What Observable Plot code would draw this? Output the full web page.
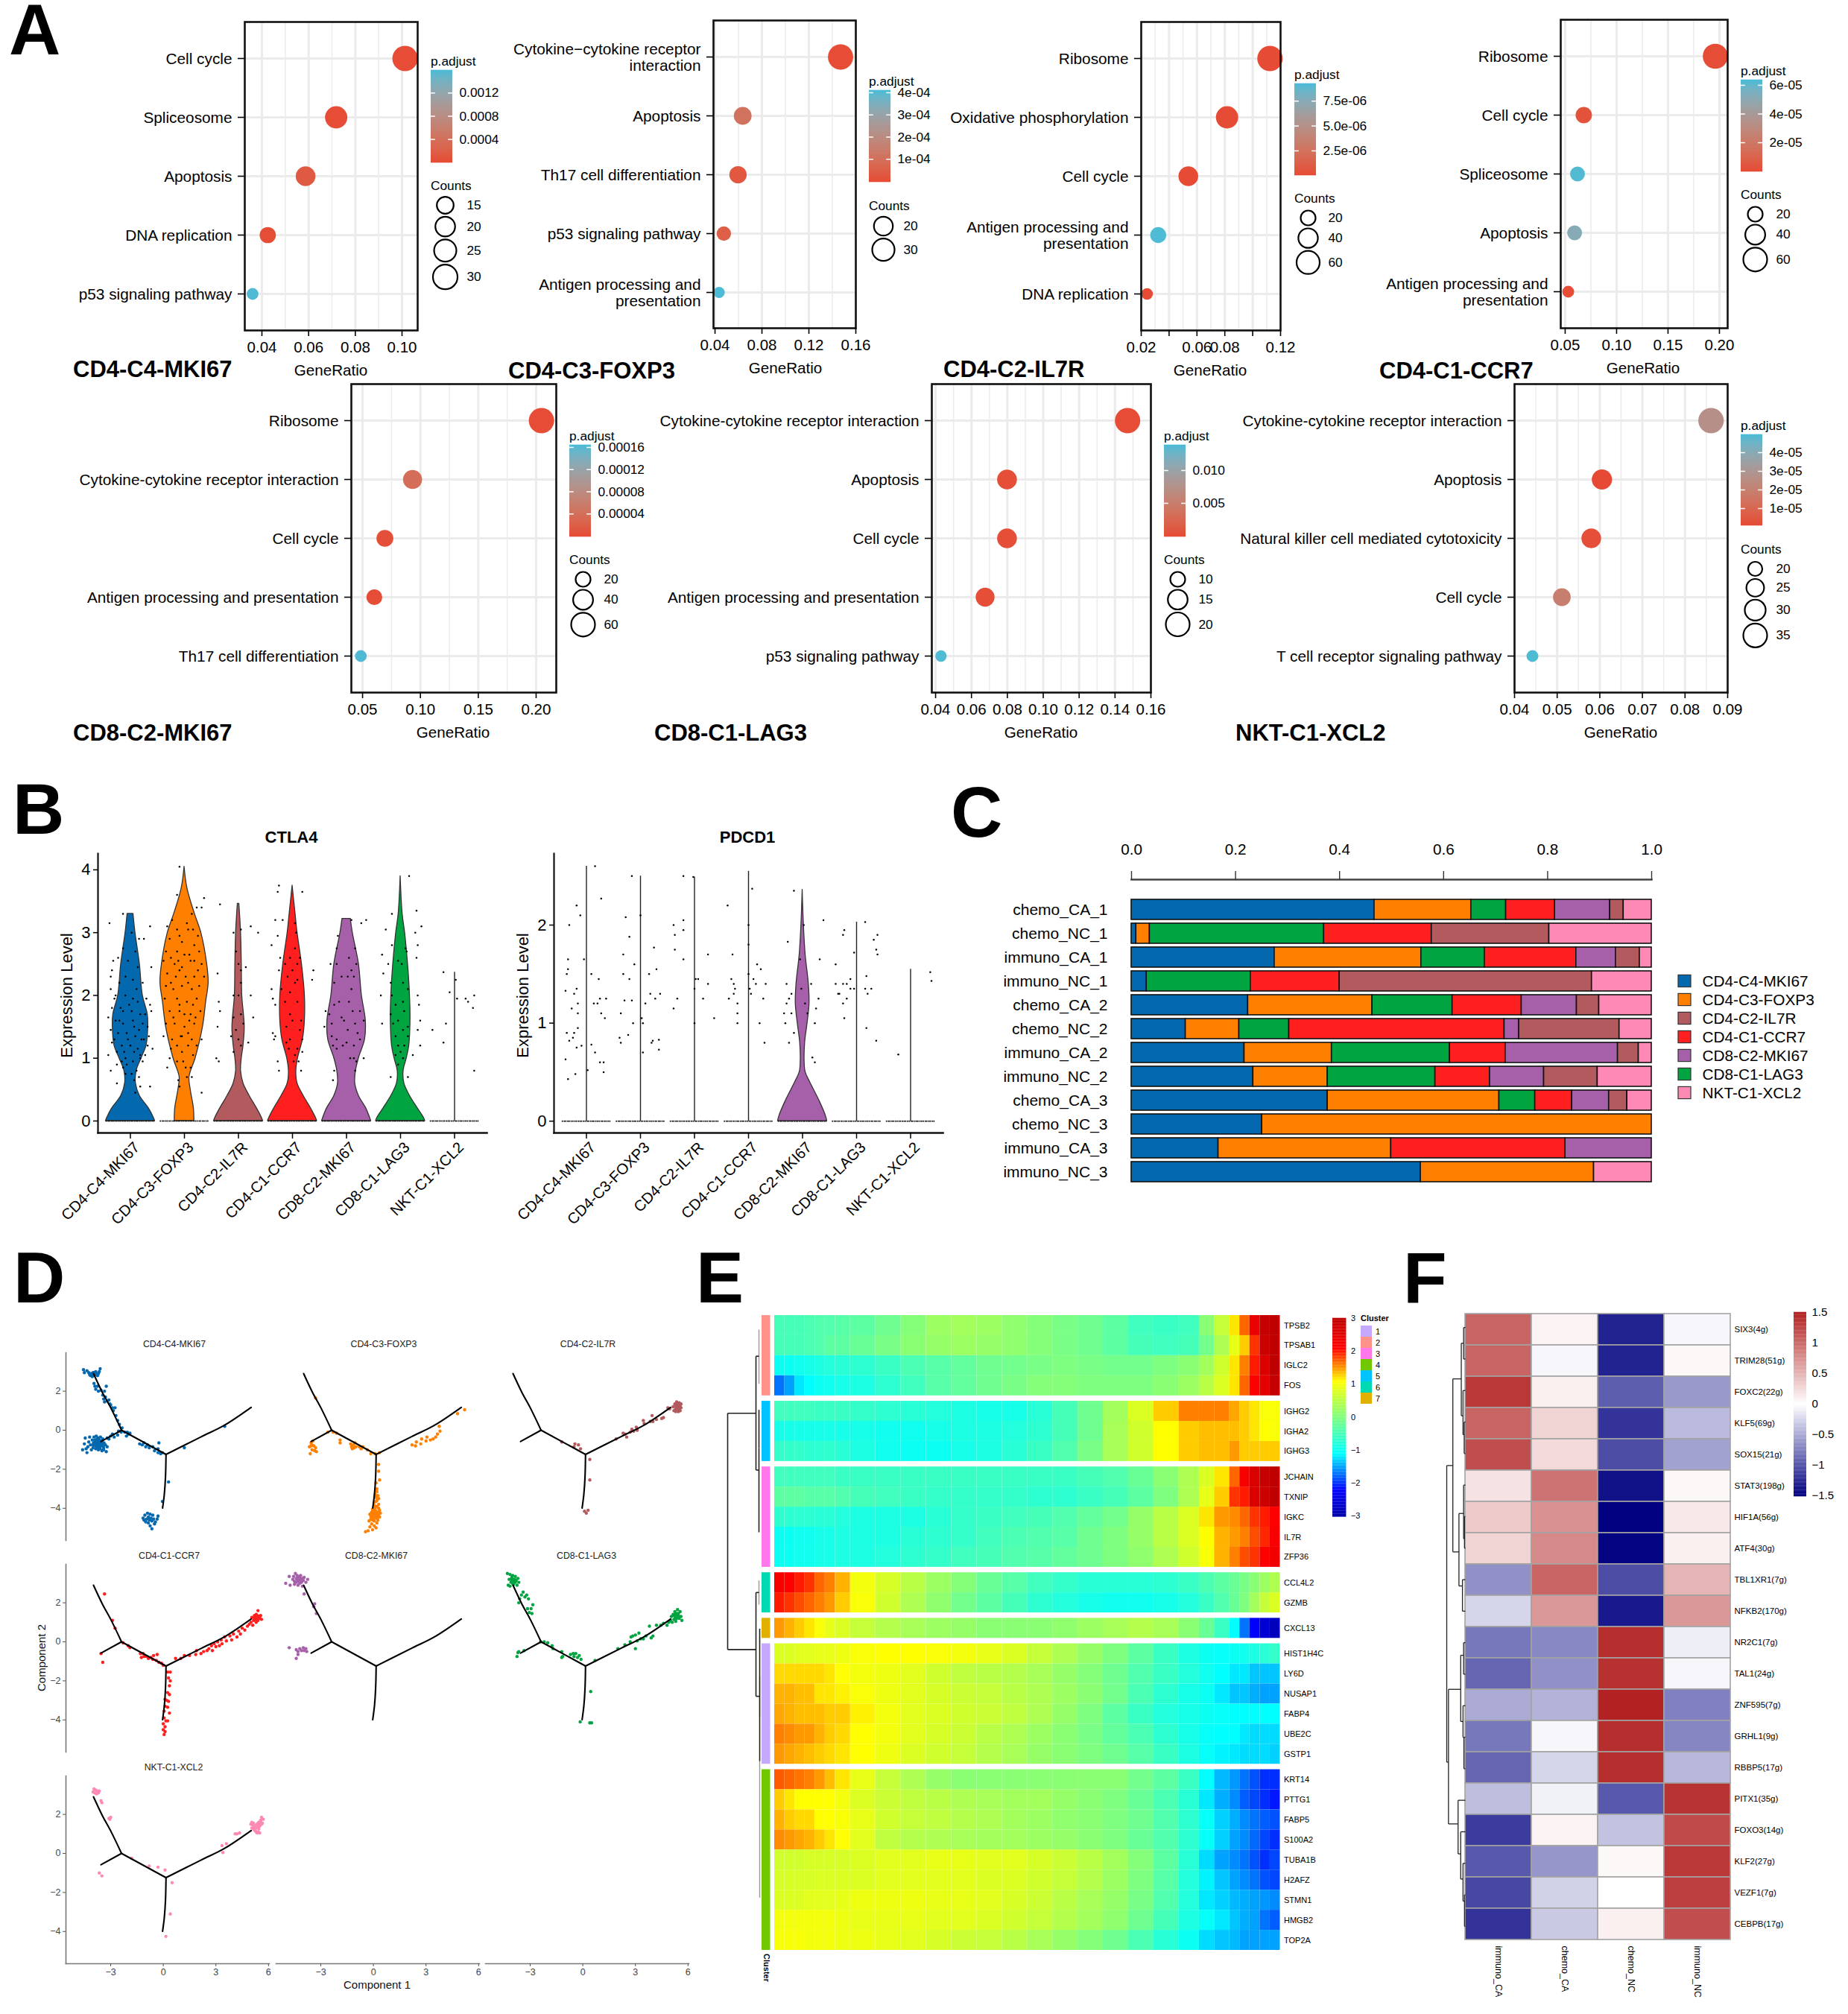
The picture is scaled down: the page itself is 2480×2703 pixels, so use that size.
<!DOCTYPE html>
<html><head><meta charset="utf-8">
<script src="https://cdn.jsdelivr.net/npm/d3@7"></script>
<script src="https://cdn.jsdelivr.net/npm/@observablehq/plot@0.6"></script>
<style>html,body{margin:0;background:#fff}#page{position:relative;width:2480px;height:2703px;overflow:hidden;background:#fff;font-family:"Liberation Sans",Arial,sans-serif}svg{background:transparent!important;overflow:visible!important}</style>
</head><body><div id="page"></div>
<script>
// ---------- DATA ----------
const longCyto="Cytokine\u2212cytokine receptor\ninteraction", longAg="Antigen processing and\npresentation";
const a1Terms=["Cell cycle","Spliceosome","Apoptosis","DNA replication","p53 signaling pathway"], a1Ratio=[.1013,.0718,.0587,.0425,.036], a1Padj=[.00002,.00002,.00015,.00003,.00158], a1Counts=[32,25,20,14,8];
const a2Terms=[longCyto,"Apoptosis","Th17 cell differentiation","p53 signaling pathway",longAg], a2Ratio=[.147,.0636,.0596,.0475,.0435], a2Padj=[2e-6,1.1e-4,3e-5,5e-5,4.1e-4], a2Counts=[40,17,16,10,5];
const a3Terms=["Ribosome","Oxidative phosphorylation","Cell cycle",longAg,"DNA replication"], a3Ratio=[.1124,.0816,.0538,.0322,.0242], a3Padj=[1e-7,1e-7,1e-7,9.2e-6,1e-7], a3Counts=[75,55,41,24,10];
const a4Terms=["Ribosome","Cell cycle","Spliceosome","Apoptosis",longAg], a4Ratio=[.196,.0681,.062,.0592,.053], a4Padj=[1e-6,3e-6,6.3e-5,5.2e-5,1e-6], a4Counts=[67,25,20,20,11];
const a5Terms=["Ribosome","Cytokine-cytokine receptor interaction","Cell cycle","Antigen processing and presentation","Th17 cell differentiation"], a5Ratio=[.2046,.0932,.0693,.0602,.0485], a5Padj=[1e-6,3.8e-5,3e-6,2e-6,1.63e-4], a5Counts=[69,36,27,23,11];
const a6Terms=["Cytokine-cytokine receptor interaction","Apoptosis","Cell cycle","Antigen processing and presentation","p53 signaling pathway"], a6Ratio=[.147,.0798,.0798,.0676,.043], a6Padj=[.0001,.0002,.0002,.0002,.0138], a6Counts=[22,15,15,14,7];
const a7Terms=["Cytokine-cytokine receptor interaction","Apoptosis","Natural killer cell mediated cytotoxicity","Cell cycle","T cell receptor signaling pathway"], a7Ratio=[.0861,.0605,.058,.0511,.0442], a7Padj=[2.7e-5,1e-6,2e-6,1.9e-5,4.95e-5], a7Counts=[38,29,28,25,17];

const clusters=["CD4-C4-MKI67","CD4-C3-FOXP3","CD4-C2-IL7R","CD4-C1-CCR7","CD8-C2-MKI67","CD8-C1-LAG3","NKT-C1-XCL2"];
const clusterColors=["#0468AE","#FF7F00","#B25A5D","#FF1F1F","#A660AA","#00A441","#FF89B5"];

const ctlaProfiles=[
[3.3,.12,3.0,.2,2.5,.38,2.0,.5,1.7,.7,1.5,.72,1.2,.65,1.0,.45,.8,.25,.6,.22,.4,.38,.2,.75,.05,.95,0,1],
[4.05,0,3.7,.12,3.3,.42,3,.68,2.5,.92,2.2,.98,1.9,.88,1.5,.75,1,.45,.7,.2,.5,.25,.2,.38,0,.4],
[3.46,.03,3,.1,2.5,.13,2,.15,1.5,.25,1.2,.2,1,.13,.8,.1,.6,.2,.4,.45,.2,.75,.05,.95,0,1],
[3.75,0,3.3,.12,3,.2,2.5,.38,2,.5,1.6,.5,1.3,.42,1,.22,.8,.15,.6,.2,.4,.45,.2,.75,.05,.95,0,1],
[3.22,.17,3,.25,2.5,.5,2,.62,1.6,.78,1.3,.75,1,.5,.8,.38,.6,.35,.4,.5,.2,.8,0,1],
[3.9,0,3.3,.08,3,.18,2.5,.3,2,.38,1.6,.4,1.2,.35,1,.25,.8,.12,.6,.15,.4,.38,.2,.7,.05,.95,0,1]];
const pdcdProfile=[2.36,0,2,.05,1.7,.12,1.4,.25,1.2,.28,1,.2,.8,.1,.6,.08,.5,.12,.4,.3,.2,.7,.05,.95,0,1];
const ctlaLineTop=[null,null,null,null,null,null,2.37];
const pdcdLineTop=[2.6,2.5,2.49,2.55,null,2.03,1.55];
const baseJitter=[-.98,-.9,-.84,-.76,-.7,-.62,-.55,-.47,-.41,-.33,-.26,-.2,-.12,-.05,.03,.09,.17,.24,.3,.38,.45,.52,.6,.66,.74,.8,.88,.95];
const ctlaPoints=[
[-.85,3.15,-.3,3.3,-.7,2.55,-.75,2.4,-.8,2.3,-.5,2.6,.35,2.9,.55,2.9,.8,3.1,.2,2.7,-.2,2.3,.3,2.45,.5,2.2,.85,2.45,-.8,2.1,-.6,2,-.2,2,.1,1.95,.3,1.9,-.75,1.8,-.4,1.8,.05,1.75,.4,1.7,.8,1.85,.85,1.75,-.9,1.65,-.6,1.6,-.3,1.55,.1,1.6,.5,1.55,.7,1.5,-.8,1.45,-.5,1.4,-.15,1.4,.2,1.35,.55,1.3,.75,1.35,-.75,1.25,-.35,1.2,0,1.2,.3,1.15,.7,1.2,.9,1.15,-.9,1.05,-.55,1.1,-.2,1,.1,.95,.4,1,-.8,.8,-.3,.85,-.2,.75,.05,.75,.35,.7,-.55,.6,.4,.55,.2,.45,.8,.55,-.15,.9,.25,.8,-.65,1.95,-.3,1.75,.15,1.5,.35,1.45,-.1,1.3,.45,1.3,-.45,1.6,-.05,1.85,.25,2.1,-.45,2.2,.6,1.7,.65,1.95,-.65,1.3,-.25,1.1,.15,1.1,.5,.95,-.35,.95,.6,1.05,-.1,2.55,.1,2.25,-.3,2.75,.05,3,.4,1.05,-.55,.9,.15,.65],
[-.2,4.05,-.3,3.6,.5,3.4,.8,3.55,.7,3.4,.3,3.3,-.5,3.2,.1,3.15,-.7,3.1,-.3,3.05,.15,3.05,.35,3.05,-.6,2.9,-.1,2.85,.4,2.8,-.75,2.7,-.3,2.7,.2,2.65,.6,2.7,-.85,2.55,-.4,2.5,-.1,2.45,.25,2.55,.55,2.4,-.7,2.35,-.35,2.3,.05,2.3,.4,2.3,.8,2.3,-.75,2.15,-.45,2.1,-.1,2.15,.3,2.1,.6,2.15,-.8,1.95,-.3,1.95,.1,1.9,.5,1.95,-.6,1.75,-.2,1.75,.25,1.7,.65,1.75,-.75,1.55,-.4,1.55,0,1.5,.4,1.55,-.85,1.35,-.5,1.3,-.15,1.35,.3,1.3,.7,1.3,-.55,1.15,-.1,1.1,.35,1.05,-.3,.95,.25,.85,.1,.7,-.25,.65,.3,.7,-.7,.85,-.2,.55,.7,.45,-.2,2.95,.55,2.95,0,2.65,-.55,2.6,.4,2.55,-.2,2.4,.7,2.5,.15,2.2,-.55,2.2,-.2,1.85,.35,1.85,0,1.7,-.45,1.65,.45,1.65,-.1,1.35,.15,1.4,-.3,1.2,.15,1.2,-.6,1,.5,1.2,-.05,.95,.05,.85,.2,1.6,-.25,2.55],
[-.75,3.45,.1,3.05,-.2,3,.5,3.1,.8,3,-.1,2.7,.1,2.4,0,2.5,.3,2.45,-.85,2.35,.1,2.2,-.2,2,0,2,.5,2,-.8,1.9,-.75,1.75,.1,1.7,-.2,1.65,.2,1.55,.6,1.65,-.85,1.5,-.1,1.45,-.3,1.35,0,1.3,.1,1.2,.4,1.25,-.9,1,-.8,.95,-.2,1.1],
[-.55,3.75,-.6,3.65,.4,3.65,-.7,3.2,-.4,3.2,.1,3.15,.15,3,-.6,2.95,-.85,2.8,.1,2.75,.3,2.6,-.5,2.6,-.55,2.4,.2,2.5,.85,2.4,.8,2.25,-.2,2.3,.1,2.2,-.45,2.1,-.85,2.1,-.8,1.95,-.3,1.9,.2,1.9,-.7,1.85,-.1,1.7,.35,1.6,-.25,1.5,.3,1.45,.4,1.3,-.8,1.4,-.75,1.3,-.7,1.35,-.1,1.3,-.25,1.25,.2,1.15,.4,1.1,-.6,.95,-.55,.8,.25,.95,.35,.8,.1,1.05,-.1,2.6,0,2.4,-.3,2.5,.2,2.25,-.1,2.05,0,1.6,-.15,1.15,.05,.95],
[.2,3.2,.8,3.2,.6,3.15,-.35,2.95,.35,2.75,-.4,2.75,.1,2.6,-.65,2.5,-.4,2.5,.4,2.5,.05,2.3,.3,2.3,-.5,2.2,.2,2.1,-.85,1.75,-.7,1.7,-.5,1.85,.25,1.75,.55,1.75,-.9,1.5,-.6,1.55,-.1,1.6,.7,1.6,-.6,1.35,-.4,1.3,.05,1.45,.45,1.4,-.55,1.2,-.4,1.15,.3,1.2,.3,1,.4,.95,.7,1,-.5,.8,-.55,.65,.35,.8,-.2,2.3,.2,2.4,-.3,1.9,.1,1.9,-.2,1.65,.35,1.55,0,1.25,-.15,1.2,.55,1.3,.15,1],
[-.35,3.3,.35,3.9,.65,3.35,-.6,3.05,.85,3.1,.6,3,-.35,2.8,.7,2.8,.2,2.75,.25,2.7,-.75,2.65,-.5,2.5,.65,2.6,-.7,2.35,.1,2.2,-.4,2.2,-.8,2,-.35,2,.3,2.1,.7,2,-.2,1.85,.75,1.85,-.4,1.7,.15,1.75,.8,1.6,-.75,1.55,-.3,1.55,.3,1.5,.7,1.45,-.2,1.35,.3,1.35,-.1,1.2,.15,1.2,.8,1.2,.5,1.05,-.1,.9,-.4,.7,.3,.7,.05,2.5,-.1,2.55,.1,1.9,-.1,1.6,.1,1.45,0,1.1,-.2,1.05,.1,1],
[-.45,2.37,.05,2.25,-.2,2.05,.1,1.95,.45,1.95,.8,2,.55,1.9,.75,1.8,-.9,1.45,-.35,1.55,-.45,1.25,.8,.8]];
const pdcdPoints=[
[-.75,1.65,-.4,2.2,-.25,2.1,-.7,2,.6,2.27,.35,2.6,-.85,1.33,-.5,1.3,-.4,1.35,-.8,1.5,-.1,1.65,-.75,1.55,-.35,1.2,-.6,1.15,-.35,1.1,.3,1.2,.45,1.2,.55,1.25,.8,1.25,.2,1.5,.5,1.45,.6,1.1,.75,1.05,-.8,.9,-.55,.85,-.35,.95,-.5,.9,-.7,.82,-.4,.75,-.2,.77,.2,.78,.35,.7,-.85,.63,-.75,.43,-.45,.48,.05,.52,.55,.6,.7,.6,.7,.5],
[-.7,1.7,-.6,2.08,0,2.1,-.35,2.5,-.45,1.88,.55,1.77,-.25,1.6,-.7,1.5,-.45,1.45,.35,1.5,.65,1.55,.6,1.25,.4,1.3,.8,1.3,.2,1.2,-.8,1.1,-.65,1.23,-.35,1.23,.05,1.05,.1,1,-.3,1,-.85,.85,-.8,.8,-.5,.88,.45,.8,.5,.82,.75,.83,.75,.73,.1,.7],
[-.8,1.75,-.85,2,-.8,1.9,-.45,2.05,-.45,1.95,-.05,2.49,-.45,2.5,.55,1.7,.05,1.45,-.45,1.65,0,1.35,.15,1.45,.55,1.4,-.7,1.25,-.85,1.15,.35,1.25,0,1,.8,1.05],
[-.85,2.2,.15,2.37,-.65,1.7,-.7,1.45,-.6,1.4,-.55,1.35,-.6,1.3,-.8,1.25,-.45,1.2,-.45,1.1,-.45,1,0,1.5,.05,1.35,.2,1.45,.3,1.4,.35,1.6,.5,1.55,.6,1.25,.7,1.4,.65,.8,.45,1,0,2,0,1.8,.1,1.3],
[-.35,2.35,-.6,1.83,-.1,1.65,-.65,1.4,-.55,1.25,-.65,1.2,-.45,1.3,-.75,1.1,-.45,1.1,-.7,1,-.35,.9,-.55,.8,-.05,1.35,.1,1.2,.2,1.1,.55,1.15,.5,1,.65,1.25,.7,1.65,.85,2.05,.4,.65,.5,.6,.05,2,.35,1.4],
[-.85,1.6,-.55,1.9,-.5,1.95,-.1,1.72,-.85,1.4,-.7,1.3,-.55,1.4,-.4,1.4,-.25,1.45,-.4,1.25,-.75,1.3,-.25,1.35,-.1,1.35,-.55,1.2,-.5,1.05,.35,2.03,.8,1.75,.7,1.85,.85,1.9,.85,1.7,.4,1.48,.35,1.35,.45,1.3,.6,1.35,.4,.95,.8,.82],
[-.5,.68,.8,1.52,.85,1.43]];

// Panel C
const samples=["chemo_CA_1","chemo_NC_1","immuno_CA_1","immuno_NC_1","chemo_CA_2","chemo_NC_2","immuno_CA_2","immuno_NC_2","chemo_CA_3","chemo_NC_3","immuno_CA_3","immuno_NC_3"];
const stackOrder=["CD4-C4-MKI67","CD4-C3-FOXP3","CD8-C1-LAG3","CD4-C1-CCR7","CD8-C2-MKI67","CD4-C2-IL7R","NKT-C1-XCL2"];
const shareC4=[.467,.009,.275,.029,.224,.104,.217,.234,.377,.251,.167,.556];
const shareC3=[.186,.026,.282,0,.239,.103,.168,.143,.33,.749,.332,.333];
const shareLAG3=[.067,.335,.122,.2,.154,.096,.227,.207,.069,0,0,0];
const shareCCR7=[.094,.207,.176,.171,.133,.414,.107,.105,.071,0,.335,0];
const shareC8=[.106,0,.076,0,.106,.028,.216,.104,.071,0,.166,0];
const shareIL7R=[.026,.226,.046,.485,.043,.193,.04,.103,.035,0,0,0];
const shareNKT=[.054,.197,.023,.115,.101,.062,.025,.104,.047,0,0,.111];

// Panel D
const treeBranches=[
[[-2.38,0],[-2.99,1.14],[-3.48,1.95],[-3.98,2.9]],
[[-2.38,0],[-3.55,-.58]],
[[-2.38,0],[.156,-1.24]],
[[.156,-1.24],[2.18,-.33],[3.46,.24],[5.01,1.17]],
[[.156,-1.24],[.127,-2.38],[.06,-3.28],[-.04,-3.99]]];
const cellsC4=[-4.55,3.1,-4.5,2.95,-4.35,3.05,-4.25,2.95,-4.2,2.85,-4.15,2.8,-4.1,2.9,-4.05,2.75,-4,2.85,-3.95,2.95,-3.9,2.85,-3.85,3,-3.8,2.9,-3.75,2.8,-3.65,3,-3.6,3.15,-3.7,2.9,-3.95,2.4,-3.9,2.25,-3.85,2.1,-3.75,2.25,-3.7,2,-3.55,2.05,-3.35,2,-3.25,2.25,-3.45,1.8,-3.4,1.6,-3.35,1.45,-3.3,1.7,-3.2,1.5,-3.1,1.55,-3.05,1.35,-3,1.3,-2.9,1.15,-2.85,1,-2.75,1.15,-2.7,.75,-2.6,.5,-2.5,.3,-2.35,.12,-3,-.3,-2.8,-.35,-2.9,-.2,-2.6,-.25,-2.55,-.05,-2.4,-.1,-2.2,-.1,-2.1,-.3,-3.2,-.4,-3.1,-.45,-2.05,-.1,-4.6,-1,-4.5,-.7,-4.45,-.4,-4.4,-.95,-4.35,-1.15,-4.3,-.85,-4.25,-.6,-4.2,-.35,-4.15,-.75,-4.1,-1,-4.05,-.5,-4,-.9,-3.98,-.65,-3.95,-.35,-3.9,-.75,-3.88,-.55,-3.85,-.95,-3.82,-.3,-3.8,-.7,-3.78,-.45,-3.75,-.85,-3.72,-.6,-3.7,-1,-3.68,-.75,-3.65,-.5,-3.62,-.9,-3.6,-.65,-3.58,-.35,-3.55,-.8,-3.52,-.55,-3.5,-1.05,-3.48,-.7,-3.45,-.45,-3.4,-.9,-3.38,-.65,-3.3,-.75,-3.25,-1.1,-3.2,-.85,-3.4,-1,-3.75,-.65,-3.7,-.55,-3.85,-.65,-3.6,-.75,-3.65,-.7,-2,-.2,-1.9,-.15,-1.35,-.7,-1.2,-.75,-1.1,-.65,-1,-.85,-.9,-.75,-.8,-.9,-.5,-1.05,-.3,-.95,-.3,-1.15,-.25,-.65,-.15,-1.2,-.05,-1.15,-.6,-.85,1.2,-.9,3.5,.2,.3,-2.65,-.05,-3.65,-1.15,-4.5,-1.1,-4.6,-1.05,-4.35,-1,-4.7,-.95,-4.55,-.9,-4.25,-.85,-4.45,-.85,-4.75,-.8,-4.6,-.75,-4.3,-.75,-4.9,-.7,-4.5,-.65,-4.65,-.65,-5.05,-.6,-4.35,-.55,-4.55,-.5,-4.8,-.45,-4.7,-.35,-4.55,-.3,-4.4,-3.9,-.6,-3.8,-.55,-3.7,-.7,-3.6,-.6,-3.75,-.8,-3.65,-.85,-3.85,-.8,-3.55,-.7,-3.7,-.4,-3.8,-.85,-3.9,-.5,-3.5,-.6,-3.45,-.8,-4,-.75,-3.6,-.95,-3.7,-.65,-3.75,-.5,-3.65,-.6,-4,2.95,-3.9,2.95,-3.85,2.9,-4.05,2.9,-3.95,2.8];
const cellsC3=[-3.3,1.65,-3.65,-.85,-3.6,-1.2,-3.55,-.65,-3.5,-1,-3.45,-.55,-3.4,-.8,-3.35,-1.05,-3.3,-.9,-3.25,-1.1,-3.55,-.8,-3.5,-.75,-2.6,-.1,-2.3,-.1,-2.1,-.15,-1.9,-.5,-1.9,-.65,-1.3,-.7,-1.25,-.85,-1.2,-.95,-1.15,-.75,-1.1,-.9,-1.05,-.65,-1,-.85,-.8,-.85,-.7,-.95,-.6,-.85,-.35,-1,-.15,-1.2,.1,-1.2,.35,-1.15,2.2,-.75,2.4,-.8,2.45,-.6,2.7,-.7,2.75,-.45,3,-.55,3.05,-.35,3.25,-.5,3.4,-.45,3.55,-.35,3.65,-.2,3.8,-.05,3.75,.2,4.8,.85,5.2,1.05,.3,-1.75,.3,-2.1,.35,-2.55,.15,-2.7,.2,-3,.2,-3.15,.25,-3.35,.1,-3.3,.3,-3.5,.15,-3.65,.3,-3.8,.2,-3.9,.05,-3.85,.3,-4,-.05,-4.05,.1,-4.1,.35,-4.1,.25,-4.2,-.1,-4.2,.4,-4.25,.05,-4.3,.2,-4.35,-.2,-4.3,.35,-4.45,-.05,-4.45,.1,-4.5,.25,-4.6,-.15,-4.55,.05,-4.65,-.25,-4.65,.2,-4.75,-.1,-4.8,.05,-4.9,-.2,-4.95,.15,-5,-.05,-5.1,-.3,-5.15,-.45,-5.2,0,-4.4,.1,-4.3,0,-4.2,-.1,-4.4,.15,-4.15,-.05,-4.6,.05,-4.45,0,-4.3,.1,-4.15,.2,-4.25,-.1,-4.3,0,-4.5,.15,-4.4,.05,-4.25,-.05,-4.15,.1,-4.4,.25,-4.35,.3,-4.3,-.15,-4.4,0,-4.05,.2,-4.5,.1,-3.95,.05,-3.7,.2,-3.6,.15,-3.45];
const cellsIL7R=[5.15,1.2,5.2,1,5.25,1.35,5.3,1.1,5.3,.95,5.35,1.25,5.35,1.45,5.4,1.05,5.4,1.3,5.45,.95,5.45,1.2,5.5,1.4,5.5,1.1,5.55,1.25,5.55,1,5.6,1.35,5.6,1.15,5.3,1.25,5.4,1.15,5.5,1.25,4.85,1.15,4.95,1.1,4.6,.65,4.5,.6,4.2,.55,4,.45,3.95,.75,3.85,.45,3.5,.35,3.45,.5,3.1,0,3.05,.15,2.9,-.05,2.8,.05,2.7,-.1,2.5,-.35,2.4,-.2,2.3,-.15,1.9,-.45,-1.2,-.6,-.45,-.7,-.5,-.85,-.25,-.75,-.13,-.95,.4,-1.5,.4,-2.55,.1,-4.15,.2,-4.25,.3,-4.1,5.35,1.15,5.45,1.1,5.4,1.35,5.35,1.05];
const cellsCCR7=[-3.35,2.45,-2.9,1.1,-2.75,.7,-3.55,-.6,-3.45,-1.05,-2.3,-.05,-2,-.2,-1.9,-.3,-1.3,-.6,-1.25,-.8,-1.15,-.6,-1.1,-.75,-.95,-.75,-.85,-.85,-.7,-.8,-.6,-.9,-.55,-.7,-.4,-.95,-.35,-.65,-.25,-1.05,-.1,-1.1,0,-1.2,.7,-.85,1,-.85,1.2,-.7,1.5,-.7,1.85,-.65,1.9,-.45,2.15,-.6,2.3,-.5,2.5,-.45,2.6,-.35,2.75,-.2,2.8,-.45,2.9,-.1,3,-.25,3.1,0,3.2,-.2,3.3,.1,3.35,-.1,3.5,.25,3.6,.05,3.8,.3,3.9,.1,4,.4,4.2,.25,4.3,.55,4.4,.4,4.5,.7,4.65,.6,4.8,.8,4.9,.9,5,1,5.05,1.25,5.1,.85,5.15,1.1,5.2,1.35,5.25,1.15,5.3,1,5.3,1.4,5.35,1.25,5.4,1.1,5.4,1.6,5.45,1.3,5.5,1.2,5.55,1.35,5.6,1.15,5.2,1.2,5.3,1.25,.25,-1.55,.4,-1.55,.3,-1.85,.4,-2,.35,-2.25,.25,-2.6,.35,-2.7,.1,-2.95,.2,-3,.3,-3.05,.1,-3.3,.25,-3.35,.05,-3.55,.05,-3.9,.15,-4.05,.25,-4.05,0,-4.2,.1,-4.35,0,-4.5,.1,-4.6,.05,-4.75,.35,-3.65,5.25,1.3,5.35,1.15,5.4,1.3,5.45,1.2,5.3,1.15,5.5,1.3,5.35,1.35];
const cellsC8C2=[-5,3,-4.8,3.35,-4.75,2.9,-4.6,3.2,-4.55,3.35,-4.5,3.1,-4.5,2.95,-4.45,3.5,-4.4,3.25,-4.4,3.05,-4.35,3.4,-4.3,3.15,-4.3,2.9,-4.25,3.3,-4.2,3,-4.15,3.2,-4.15,3.4,-4.1,3.05,-4.05,2.85,-4.05,3.25,-4,3.15,-3.95,3.3,-3.85,3.05,-3.75,3.2,-4.3,3.1,-4.2,3.25,-4.1,3.2,-3.95,2.45,-3.35,1.95,-3.4,1.8,-3.25,1.45,-4.8,-.3,-4.4,-.4,-4.3,-.5,-4.2,-.35,-4.1,-.45,-4,-.3,-3.95,-.45,-3.85,-.35,-4.4,-.85,-4.3,-.65,-3.8,-.5,-4.3,3.2,-4.25,3.1,-4.2,3.15,-4.35,3.2,-4.15,3.1,-4.25,3.2,-4.3,3.3,-4.2,3.35,-4.1,3.1];
const cellsLAG3=[-4.3,3.5,-4.25,2.9,-4.2,3.2,-4.15,3.45,-4.15,2.85,-4.1,3.05,-4.05,3.3,-4,3.4,-4,3.1,-3.95,2.95,-3.9,3.2,-3.85,3.35,-3.85,3.05,-3.8,3.15,-3.75,2.9,-3.7,3.25,-3.65,3.05,-3.95,3.2,-4.05,3.15,-3.5,2.4,-3.4,2.55,-3.3,2.3,-3.2,2.4,-3.1,2.2,-3.15,1.7,-3.05,1.5,-2.95,1.7,-2.9,1.45,-2.85,1.9,-3.6,2.2,-3.65,2,-3.75,-.75,-3.7,-.55,-3.65,-.5,-3.35,-.45,-2.4,0,-2.2,0,-2,-.05,-1.75,-.2,-1.7,-.35,-1.2,-.5,-1.2,-.8,-1.15,-.75,-.7,-.65,-.55,-.6,-.5,-.75,-.4,-.6,-.3,-.8,-.2,-.7,-.1,-.9,.7,-.95,2,-.35,2.4,-.15,2.7,0,2.75,.25,2.85,.3,3,.35,3,-.35,3.1,.05,3.2,.45,3.3,.15,3.45,.15,3.6,.3,4,.3,3.9,.2,3.8,.8,4.2,.85,4.45,.85,4.6,.95,4.8,.85,4.9,1,5,1.1,5.05,1.3,5.1,1,5.15,1.4,5.2,1.15,5.25,1.55,5.3,1.25,5.3,1.05,5.35,1.45,5.4,1.65,5.45,1.35,5.5,1.2,5.55,1.55,5.6,1.3,5.65,1.1,5.3,1.4,5.4,1.25,5.2,1.35,.45,-2.55,-.15,-4.1,.4,-4.15,.5,-4.15,-4,3.2,-3.95,3.1,-3.9,3.1,-4.05,3.25,-4,3,5.3,1.3,5.35,1.35,5.4,1.35,5.35,1.2,5.25,1.3,5.45,1.45];
const cellsNKT=[-4,3.15,-3.95,3.3,-3.9,3.1,-3.85,3.25,-3.8,3.05,-3.75,3.2,-3.7,3.1,-3.65,3.2,-3.55,2.7,-3.5,2.6,-3.05,1.75,-3,1.85,-3.1,1.8,5,1.5,5.05,1.3,5.05,1.6,5.1,1.45,5.15,1.25,5.15,1.55,5.2,1.2,5.2,1.4,5.25,1.15,5.3,1.1,5.3,1.45,5.35,1.05,5.35,1.35,5.4,1.55,5.4,1.1,5.45,1.25,5.45,1.6,5.5,1.05,5.5,1.4,5.55,1.65,5.55,1.7,5.6,1.5,5.6,1.85,5.65,1.55,5.7,1.75,4.2,1,4.35,1.05,4.1,1,3.35,.4,3.6,.5,3.4,.05,-3.65,-1,-3.5,-1.15,-1.8,-.25,-.8,-.65,-.3,-.7,.1,-.85,.5,-1.5,.4,-3.1,.15,-4.25,5.3,1.3,5.2,1.3,5.4,1.4,5.35,1.5,5.45,1.4,5.5,1.55,5.55,1.5,5.25,1.4];

// Panel E
const pseudoBreaks=[0,2,4,6,8,10,12,15,20,25,30,35,40,45,50,55,60,65,70,75,80,84,87,90,92,94,96,98,100];
const eGroups=[["TPSB2","TPSAB1","IGLC2","FOS"],["IGHG2","IGHA2","IGHG3"],["JCHAIN","TXNIP","IGKC","IL7R","ZFP36"],["CCL4L2","GZMB"],["CXCL13"],["HIST1H4C","LY6D","NUSAP1","FABP4","UBE2C","GSTP1"],["KRT14","PTTG1","FABP5","S100A2","TUBA1B","H2AFZ","STMN1","HMGB2","TOP2A"]];
const eGroupCluster=["2","5","3","6","7","1","4"];
const eClusterKeys=["1","2","3","4","5","6","7"];
const eClusterColors=["#C4A9FF","#FF9289","#FF77EA","#72C800","#00C3FF","#00D9B1","#E0B000"];
const eHeat={
TPSB2:[-.5,-.5,-.5,-.45,-.4,-.4,-.35,-.3,-.15,.05,.25,.3,.25,.15,.05,-.05,-.15,-.3,-.55,-.6,-.55,.1,.6,1.2,1.7,2.4,2.9,3],
TPSAB1:[-.5,-.5,-.5,-.45,-.4,-.3,-.3,-.2,-.05,.1,.2,.25,.2,.15,.05,-.05,-.15,-.3,-.5,-.55,-.5,-.1,.4,.9,1.3,1.9,2.8,3],
IGLC2:[-1,-1,-.95,-.9,-.85,-.8,-.75,-.7,-.6,-.45,-.35,-.25,-.15,-.1,-.05,0,-.05,-.1,-.1,0,.1,.3,.7,1.2,1.6,2,2.6,3],
FOS:[-1.7,-1.5,-1.2,-1.1,-1,-.95,-.9,-.85,-.7,-.55,-.35,-.25,-.15,-.05,.05,.05,0,0,0,.1,.25,.5,.8,1.2,1.7,2.1,2.5,2.9],
IGHG2:[-.55,-.55,-.55,-.55,-.6,-.6,-.6,-.65,-.7,-.75,-.8,-.85,-.9,-.9,-.75,-.5,-.15,.3,.8,1.3,1.6,1.6,1.6,1.45,1.3,1.2,1.05,1.05],
IGHA2:[-.9,-.9,-.9,-.9,-.9,-.9,-.9,-.9,-.95,-.95,-.9,-.85,-.85,-.8,-.7,-.5,-.15,.35,.7,1.1,1.3,1.35,1.35,1.35,1.3,1.2,1.1,1.05],
IGHG3:[-.65,-.65,-.65,-.7,-.7,-.7,-.75,-.85,-.95,-1,-1,-.9,-.85,-.75,-.6,-.4,-.05,.35,.7,1.1,1.3,1.35,1.35,1.5,1.3,1.3,1.3,1.3],
JCHAIN:[-.55,-.55,-.55,-.55,-.55,-.55,-.6,-.6,-.6,-.6,-.6,-.6,-.6,-.6,-.6,-.6,-.5,-.4,-.2,.1,.4,.8,1.2,1.7,2.2,2.6,2.9,3],
TXNIP:[-.3,-.3,-.3,-.35,-.35,-.35,-.4,-.5,-.55,-.6,-.65,-.65,-.65,-.65,-.7,-.7,-.6,-.5,-.3,0,.4,.9,1.3,1.9,2,2.6,2.8,3],
IGKC:[-.7,-.7,-.7,-.7,-.75,-.75,-.8,-.85,-.85,-.85,-.75,-.65,-.6,-.55,-.5,-.4,-.25,-.1,.2,.5,.8,1.2,1.5,1.55,1.7,1.9,2,2.1],
IL7R:[-1,-1,-.95,-.95,-.9,-.9,-.85,-.85,-.85,-.75,-.7,-.65,-.55,-.45,-.4,-.35,-.15,0,.2,.5,.8,1.1,1.4,1.5,1.6,1.8,1.95,2.2],
ZFP36:[-1,-1,-.95,-.95,-.9,-.9,-.85,-.85,-.8,-.7,-.65,-.55,-.5,-.4,-.35,-.25,-.15,0,.15,.4,.7,1.05,1.4,1.6,1.8,1.9,2.1,2.3],
CCL4L2:[2.2,2.1,2,1.9,1.7,1.6,1.4,1,.75,.5,.25,.05,-.2,-.35,-.55,-.65,-.75,-.75,-.75,-.7,-.6,-.45,-.3,-.2,-.05,.1,.25,.4],
GZMB:[2,1.9,1.8,1.7,1.6,1.5,1.3,1.05,.7,.4,.15,-.1,-.3,-.5,-.7,-.8,-.9,-.95,-.95,-.9,-.8,-.6,-.4,-.2,0,.3,.6,.8],
CXCL13:[1.5,1.4,1.3,1.2,1.05,.9,.8,.6,.45,.35,.25,.2,.1,.1,.1,.15,.25,.35,.45,.35,.1,-.2,-.6,-1.1,-1.7,-2.2,-2.6,-2.8],
HIST1H4C:[.8,.8,.85,.85,.9,.9,.95,1.05,1.1,1.1,1.05,1,.9,.8,.6,.4,.2,0,-.3,-.6,-.85,-1,-1.05,-1,-.95,-.85,-.75,-.65],
LY6D:[1.25,1.25,1.25,1.25,1.25,1.2,1.1,1,.95,.85,.7,.55,.5,.45,.35,.2,.05,-.15,-.4,-.6,-.8,-.95,-1.1,-1.2,-1.2,-1.35,-1.35,-1.35],
NUSAP1:[1.4,1.4,1.35,1.35,1.2,1.2,1.15,1.05,.95,.85,.75,.65,.6,.5,.4,.25,.1,-.1,-.45,-.7,-.9,-1,-1.2,-1.35,-1.35,-1.45,-1.5,-1.5],
FABP4:[1.45,1.4,1.35,1.35,1.35,1.3,1.3,1.15,1,.85,.8,.7,.65,.55,.4,.2,0,-.3,-.6,-.8,-.9,-1,-1.05,-1.1,-1.1,-1.1,-1.1,-1.1],
UBE2C:[1.6,1.55,1.5,1.5,1.4,1.3,1.25,1.1,1,.85,.75,.65,.5,.4,.25,.1,-.05,-.25,-.45,-.7,-.9,-1.05,-1.1,-1.1,-1.2,-1.25,-1.25,-1.25],
GSTP1:[1.5,1.45,1.4,1.35,1.3,1.25,1.2,1.1,.95,.8,.7,.6,.45,.35,.2,.1,0,-.15,-.35,-.6,-.85,-1.05,-1.15,-1.2,-1.25,-1.25,-1.25,-1.3],
KRT14:[1.75,1.7,1.65,1.6,1.5,1.35,1.2,.9,.6,.4,.2,.1,.1,.1,.1,.1,.1,.1,-.1,-.3,-.6,-1.1,-1.4,-1.55,-1.7,-1.85,-2,-2],
PTTG1:[1.3,1.2,1.1,1.1,1.1,1.1,1,.8,.65,.55,.5,.4,.35,.3,.3,.2,.1,0,-.2,-.45,-.75,-1.2,-1.45,-1.6,-1.8,-1.9,-2,-2.1],
FABP5:[1.4,1.3,1.25,1.25,1.1,1.1,1.05,.9,.7,.6,.55,.45,.4,.3,.25,.15,.1,0,-.15,-.4,-.7,-1.05,-1.3,-1.45,-1.6,-1.7,-1.8,-1.85],
S100A2:[1.55,1.5,1.45,1.4,1.3,1.2,1.1,.85,.55,.45,.4,.35,.3,.3,.25,.2,.1,0,-.2,-.4,-.7,-1.05,-1.3,-1.5,-1.6,-1.75,-1.9,-2],
TUBA1B:[.7,.7,.7,.75,.75,.75,.75,.8,.85,.85,.9,.9,.85,.85,.75,.65,.5,.3,.05,-.3,-.75,-1.25,-1.5,-1.6,-1.7,-1.85,-2,-1.9],
H2AFZ:[.75,.75,.75,.75,.8,.8,.8,.8,.85,.85,.85,.85,.8,.8,.7,.6,.45,.25,0,-.35,-.8,-1.15,-1.35,-1.5,-1.6,-1.7,-1.85,-1.9],
STMN1:[.8,.8,.8,.85,.85,.85,.9,.95,.95,.95,.9,.9,.85,.75,.65,.5,.35,.2,-.05,-.4,-.8,-1.2,-1.3,-1.4,-1.45,-1.5,-1.55,-1.6],
HMGB2:[1,1,1,1,1,1,.95,.9,.9,.9,.85,.85,.8,.7,.6,.45,.3,.15,-.15,-.5,-.85,-1.05,-1.2,-1.35,-1.45,-1.5,-1.7,-1.8],
TOP2A:[1.05,1.05,1.05,1,1,1,.95,.95,.9,.85,.75,.65,.6,.5,.35,.2,.05,-.15,-.45,-.75,-1,-1.25,-1.35,-1.4,-1.5,-1.5,-1.5,-1.5]};
const jetStops=[-3,-2.2,-1.1,0,1.1,2.1,3], jetColors=["#0000A8","#0000FF","#00FFFF","#7FFF7F","#FFFF00","#FF0000","#BF0000"];
const eTree=[[0,4.87,0,16.64,1],[0,4.87,38,4.87,1],[0,16.64,38,16.64,1],[38,2.03,38,7.7,1],[38,2.03,42,2.03,1],[38,7.7,42,7.7,1],[42,.7,42,3.4,0],[42,4.7,42,6.6,1],[42,6.6,42,10.8,1],[38,13.8,38,18.97,1],[38,13.8,42,13.8,1],[38,18.97,43,18.97,1],[42,13.2,42,14.4,0],[43,15.6,43,22.2,1],[43,22.2,43,29,0],[43,18,43,20,0]];

// Panel F
const fCols=["immuno_CA","chemo_CA","chemo_NC","immuno_NC"];
const fGenes=["SIX3(4g)","TRIM28(51g)","FOXC2(22g)","KLF5(69g)","SOX15(21g)","STAT3(198g)","HIF1A(56g)","ATF4(30g)","TBL1XR1(7g)","NFKB2(170g)","NR2C1(7g)","TAL1(24g)","ZNF595(7g)","GRHL1(9g)","RBBP5(17g)","PITX1(35g)","FOXO3(14g)","KLF2(27g)","VEZF1(7g)","CEBPB(17g)"];
const fImmunoCA=[1.05,1.05,1.35,1.05,1.2,.2,.35,.3,-.65,-.25,-.8,-.9,-.5,-.8,-.9,-.38,-1.15,-.98,-1.08,-1.2];
const fChemoCA=[.08,-.05,.1,.3,.25,.95,.75,.8,1.05,.7,-.7,-.65,-.45,-.05,-.25,-.08,.08,-.62,-.27,-.32];
const fChemoNC=[-1.3,-1.3,-.95,-1.2,-1.05,-1.4,-1.5,-1.47,-1.05,-1.35,1.42,1.4,1.5,1.42,1.42,-.98,-.36,.05,0,.1];
const fImmunoNC=[-.05,.05,-.6,-.4,-.55,.05,.15,.1,.5,.7,-.1,-.05,-.75,-.72,-.42,1.38,1.23,1.35,1.3,1.2];
const fTree=[[160,4.88,160,14.29],[160,4.88,181,4.88],[160,14.29,166,14.29],[181,2.13,181,7.62],[181,2.13,210,2.13],[181,7.62,202,7.62],[210,1,210,3.3],[210,1,218,1],[218,.5,218,1.5],[218,.5,224,.5],[218,1.5,224,1.5],[210,3.3,216,3.3],[216,2.5,216,3.9],[216,2.5,224,2.5],[216,3.9,220,3.9],[220,3.5,220,4.5],[220,3.5,224,3.5],[220,4.5,224,4.5],[202,6.4,202,8.7],[202,6.4,218,6.4],[218,5.5,218,7.2],[218,5.5,224,5.5],[218,7.2,221,7.2],[221,6.5,221,7.5],[221,6.5,224,6.5],[221,7.5,224,7.5],[202,8.7,214,8.7],[214,8.5,214,9.5],[214,8.5,224,8.5],[214,9.5,224,9.5],[166,11.98,166,16.25],[166,11.98,208,11.98],[208,10.9,208,13],[208,10.9,218,10.9],[218,10.5,218,11.5],[218,10.5,224,10.5],[218,11.5,224,11.5],[208,13,216,13],[216,12.5,216,13.5],[216,12.5,224,12.5],[216,13.5,219,13.5],[219,13.5,219,14.5],[219,13.5,224,13.5],[219,14.5,224,14.5],[166,16.25,199,16.25],[199,15.5,199,17.2],[199,15.5,224,15.5],[199,17.2,208,17.2],[208,16.5,208,18],[208,16.5,224,16.5],[208,18,216,18],[216,17.5,216,18.7],[216,17.5,224,17.5],[216,18.7,221,18.7],[221,18.5,221,19.5],[221,18.5,224,18.5],[221,19.5,224,19.5]];

// ---------- HELPERS ----------
const page=document.getElementById("page");
const FONT='"Liberation Sans",Arial,sans-serif';
const place=(n,x,y)=>{n.style.position="absolute";n.style.left=x+"px";n.style.top=y+"px";n.style.maxWidth="none";page.append(n);return n;};
function label(text,x,cy,o={}){const d=document.createElement("div");d.textContent=text;const a=o.anchor||"start";const tx=a==="middle"?"-50%":a==="end"?"-100%":"0";
 d.style.cssText=`position:absolute;left:${x}px;top:${cy}px;transform:translate(${tx},-50%) ${o.rotate?`rotate(${o.rotate}deg)`:""};line-height:1;white-space:pre;font-family:${FONT};font-size:${o.size||20}px;font-weight:${o.bold?700:400};color:${o.color||"#000"}`;page.append(d);}
const baseStyle=(size)=>({fontFamily:FONT,fontSize:size+"px",color:"#000",background:"transparent",maxWidth:"none"});
const pairs=a=>d3.range(0,a.length,2).map(i=>[a[i],a[i+1]]);
const padjRange=["#E64B35","#4DBBD5"];

function colorBar(c){
 const mr=c.mr||110,W=c.x1-c.x0,H=c.y1-c.y0;
 const steps=d3.range(0,201).map(i=>c.domain[0]+(c.domain[1]-c.domain[0])*i/200);
 place(Plot.plot({width:W+mr,height:H+16,marginLeft:0,marginRight:mr,marginTop:8,marginBottom:8,style:baseStyle(c.size),
  x:{domain:[0,1],axis:null},y:{domain:c.domain,axis:null},color:c.color,
  marks:[Plot.ruleY(steps,{y:d=>d,stroke:d=>d,strokeWidth:Math.max(1.6,H/190)}),
   ...(c.whiteTicks===false?[]:[Plot.ruleY(c.ticks,{x1:0,x2:.2,stroke:"white",strokeWidth:1.5}),Plot.ruleY(c.ticks,{x1:.8,x2:1,stroke:"white",strokeWidth:1.5})]),
   Plot.axisY(c.ticks,{anchor:"right",tickSize:0,tickPadding:c.pad||9,tickFormat:c.fmt,label:null,fontSize:c.size})]}),c.x0,c.y0-8);
}
function countKeys(c){
 const rs=c.keys.map(k=>d3.scaleSqrt().domain(c.rDomain).range(c.rRange)(k));
 let yy=0;const rows=c.keys.map((k,i)=>{const y=i?yy+rs[i]+4:0;yy=y+rs[i];return {k,y};});
 const H=yy+40,W=90;
 place(Plot.plot({width:W,height:H,margin:0,marginTop:20,marginLeft:20,marginBottom:20,marginRight:0,style:baseStyle(17.3),
  x:{domain:[0,W-20],range:[20,W],axis:null},y:{domain:[0,H-40],range:[20,H-20],axis:null},r:{type:"sqrt",domain:c.rDomain,range:c.rRange},
  marks:[Plot.dot(rows,{x:0,y:"y",r:"k",stroke:"#000",strokeWidth:2.2,fill:"none"}),
   Plot.text(rows,{x:0,y:"y",text:d=>String(d.k),dx:c.dx,textAnchor:"start",fontSize:17.3,fill:"#000"})]}),c.cx-20,c.cy-20);
}
const ML=345,MR=24,MT=24,MB=46;
function dotPanel(p){
 const [x0,x1,y0,y1]=p.frame;
 const rows=p.terms.map((t,i)=>({term:t,ratio:p.ratio[i],padj:p.padj[i],count:p.counts[i]}));
 const color={type:"linear",domain:p.barDomain,range:padjRange,interpolate:"lab"};
 place(Plot.plot({width:ML+x1-x0+MR,height:MT+y1-y0+MB,marginLeft:ML,marginRight:MR,marginTop:MT,marginBottom:MB,style:baseStyle(20.5),
  x:{domain:p.xd,label:null},y:{type:"point",domain:p.terms,padding:.6,label:null},
  r:{type:"sqrt",domain:p.rDomain,range:p.rRange},color,
  marks:[Plot.gridX(p.minor,{stroke:"#ebebeb",strokeWidth:1.5,strokeOpacity:1}),
   Plot.gridX(p.major,{stroke:"#ebebeb",strokeWidth:3,strokeOpacity:1}),
   Plot.gridY(p.terms,{stroke:"#ebebeb",strokeWidth:3.2,strokeOpacity:1}),
   Plot.dot(rows,{x:"ratio",y:"term",r:"count",fill:"padj"}),
   Plot.frame({stroke:"#111",strokeWidth:2.6}),
   ...(p.extraTicks?[Plot.axisX(p.extraTicks,{tickSize:8,tickFormat:()=>"",label:null,strokeWidth:1.6})]:[]),
   Plot.axisX(p.labelTicks||p.major,{tickSize:8,tickPadding:7,tickFormat:d3.format(p.fmt||".2f"),label:null,fontSize:20.5,strokeWidth:1.6}),
   Plot.axisY(p.terms,{tickSize:9,tickPadding:8,lineHeight:1.07,label:null,fontSize:20.8,strokeWidth:1.6})]}),x0-ML,y0-MT);
 label("GeneRatio",p.grx,p.gry,{size:20.6,anchor:"middle"});
 label(p.name,p.nx,p.ny,{size:31,bold:true});
 label("p.adjust",p.bar[0],p.bar[2]-11.5,{size:17.3});
 colorBar({x0:p.bar[0],x1:p.bar[0]+29,y0:p.bar[2],y1:p.bar[3],domain:p.barDomain,ticks:p.barTicks,fmt:p.barFmt,size:17.3,color,pad:9});
 label("Counts",p.bar[0],p.ct,{size:17.3});
 countKeys({keys:p.keys,rDomain:p.rDomain,rRange:p.rRange,cx:p.kx,cy:p.ky,dx:p.kdx});
}
const fe=v=>{const [m,e]=v.toExponential().split("e");return m+"e-"+String(-e).padStart(2,"0");};
const f1e=v=>v.toExponential(1).replace(/e-(\d)$/,"e-0$1");

// ---------- PANEL A ----------
[
{name:"CD4-C4-MKI67",nx:98,ny:495,frame:[328,560,29,443],xd:[.03266,.1067],major:[.04,.06,.08,.1],minor:[.05,.07,.09],terms:a1Terms,ratio:a1Ratio,padj:a1Padj,counts:a1Counts,rDomain:[15,30],rRange:[11.3,16.5],grx:444,gry:497,bar:[578,607,94,217],barDomain:[.00001,.00159],barTicks:[.0004,.0008,.0012],barFmt:d3.format(".4f"),ct:250,keys:[15,20,25,30],kx:597,ky:275,kdx:29},
{name:"CD4-C3-FOXP3",nx:682,ny:497,frame:[957,1148,27,440],xd:[.0387,.16],major:[.04,.08,.12,.16],minor:[.06,.1,.14],terms:a2Terms,ratio:a2Ratio,padj:a2Padj,counts:a2Counts,rDomain:[20,30],rRange:[12.7,15],grx:1054,gry:494,bar:[1166,1196,121,243],barDomain:[1e-7,4.1e-4],barTicks:[1e-4,2e-4,3e-4,4e-4],barFmt:fe,ct:277,keys:[20,30],kx:1185,ky:303,kdx:27},
{name:"CD4-C2-IL7R",nx:1266,ny:495,frame:[1531,1718,29,443],xd:[.02,.12],major:[.04,.06,.08,.1],minor:[.03,.05,.07,.09,.11],labelTicks:[.02,.06,.08,.12],extraTicks:[.04,.1],terms:a3Terms,ratio:a3Ratio,padj:a3Padj,counts:a3Counts,rDomain:[20,60],rRange:[10,15.5],grx:1624,gry:497,bar:[1737,1766,112,234],barDomain:[1e-7,9.24e-6],barTicks:[2.5e-6,5e-6,7.5e-6],barFmt:f1e,ct:267,keys:[20,40,60],kx:1755,ky:292,kdx:27},
{name:"CD4-C1-CCR7",nx:1851,ny:497,frame:[2094,2318,26,440],xd:[.0457,.208],major:[.05,.1,.15,.2],minor:[.075,.125,.175],terms:a4Terms,ratio:a4Ratio,padj:a4Padj,counts:a4Counts,rDomain:[20,60],rRange:[10,16],grx:2205,gry:494,bar:[2336,2365,107,229],barDomain:[3e-7,6.36e-5],barTicks:[2e-5,4e-5,6e-5],barFmt:fe,ct:262,keys:[20,40,60],kx:2355,ky:287,kdx:28},
{name:"CD8-C2-MKI67",nx:98,ny:983,frame:[471,746,515,929],xd:[.0403,.2174],major:[.05,.1,.15,.2],minor:[.075,.125,.175],terms:a5Terms,ratio:a5Ratio,padj:a5Padj,counts:a5Counts,rDomain:[20,60],rRange:[10,16],grx:608,gry:983,bar:[764,793,597,719],barDomain:[1e-7,1.64e-4],barTicks:[4e-5,8e-5,12e-5,16e-5],barFmt:d3.format(".5f"),ct:752,keys:[20,40,60],kx:782,ky:777,kdx:28},
{name:"CD8-C1-LAG3",nx:878,ny:983,frame:[1250,1544,515,929],xd:[.0379,.16],major:[.04,.06,.08,.1,.12,.14,.16],minor:[.05,.07,.09,.11,.13,.15],terms:a6Terms,ratio:a6Ratio,padj:a6Padj,counts:a6Counts,rDomain:[10,20],rRange:[10,16],grx:1397,gry:983,bar:[1562,1591,597,719],barDomain:[1e-6,.01386],barTicks:[.005,.01],barFmt:d3.format(".3f"),ct:752,keys:[10,15,20],kx:1580,ky:777,kdx:28},
{name:"NKT-C1-XCL2",nx:1658,ny:983,frame:[2032,2318,515,929],xd:[.04,.09],major:[.04,.05,.06,.07,.08,.09],minor:[.045,.055,.065,.075,.085],terms:a7Terms,ratio:a7Ratio,padj:a7Padj,counts:a7Counts,rDomain:[20,35],rRange:[9.5,16],grx:2175,gry:983,bar:[2336,2365,583,704],barDomain:[1.2e-6,4.96e-5],barTicks:[1e-5,2e-5,3e-5,4e-5],barFmt:fe,ct:738,keys:[20,25,30,35],kx:2355,ky:763,kdx:28}
].forEach(dotPanel);

// ---------- PANEL B ----------
function violin(v){
 const [x0,x1,y0,y1]=v.frame,ml=70,mr=10,mt=6,mb=150,HW=.455;
 const rows=[];v.profiles.forEach((pr,i)=>{if(pr)pairs(pr).forEach(([y,w])=>rows.push({i,y,w,cat:clusters[i]}));});
 const pts=[];v.points.forEach((a,i)=>pairs(a).forEach(([dx,y])=>pts.push({x:i+dx*HW,y})));
 const base=[];clusters.forEach((c,i)=>baseJitter.forEach(j=>base.push({x:i+j*HW,y:0})));
 const lines=v.lines.map((t,i)=>t==null?null:{i,t}).filter(Boolean);
 place(Plot.plot({width:ml+x1-x0+mr,height:mt+y1-y0+mb,marginLeft:ml,marginRight:mr,marginTop:mt,marginBottom:mb,style:baseStyle(22),
  x:{domain:[-.6,6.6],label:null},y:{domain:v.yd,label:null},color:{domain:clusters,range:clusterColors},
  marks:[Plot.areaX(rows,{y:"y",x1:d=>d.i-d.w*HW,x2:d=>d.i+d.w*HW,z:"cat",fill:"cat",stroke:"#333",strokeWidth:1.3,curve:"catmull-rom"}),
   Plot.ruleX(lines,{x:"i",y1:0,y2:"t",stroke:"#222",strokeWidth:1.4}),
   Plot.dot(base,{x:"x",y:"y",r:1,fill:"#111"}),
   Plot.dot(pts,{x:"x",y:"y",r:1.25,fill:"#000"}),
   Plot.frame({anchor:"left",stroke:"#111",strokeWidth:2.2}),
   Plot.frame({anchor:"bottom",stroke:"#111",strokeWidth:2.6}),
   Plot.axisY(v.ticks,{tickSize:6,tickPadding:4,tickFormat:d3.format("d"),label:null,fontSize:22,strokeWidth:1.5}),
   Plot.axisX(d3.range(7),{tickSize:8,tickFormat:()=>"",label:null,strokeWidth:1.5}),
   Plot.axisX(d3.range(7),{tickSize:0,tickPadding:16,dx:9,tickRotate:-45,tickFormat:i=>clusters[i],label:null,fontSize:20.3})]}),x0-ml,y0-mt);
 label(v.title,v.tx,1124,{size:22,bold:true,anchor:"middle"});
 label("Expression Level",x0-41,1336,{size:22,anchor:"middle",rotate:-90});
}
violin({frame:[131,653,1145,1520],yd:[-.19,4.26],ticks:[0,1,2,3,4],profiles:ctlaProfiles,points:ctlaPoints,lines:ctlaLineTop,title:"CTLA4",tx:391});
violin({frame:[743,1265,1145,1520],yd:[-.12,2.73],ticks:[0,1,2],profiles:[null,null,null,null,pdcdProfile,null,null],points:pdcdPoints,lines:pdcdLineTop,title:"PDCD1",tx:1003});

// ---------- PANEL C ----------
{
 const shares=[shareC4,shareC3,shareLAG3,shareCCR7,shareC8,shareIL7R,shareNKT];
 const rows=[];samples.forEach((s,i)=>stackOrder.forEach((c,j)=>{if(shares[j][i]>0)rows.push({s,c,v:shares[j][i]});}));
 const x0=1518,x1=2216,axisY=1180,ml=130,mt=60,H=430;
 place(Plot.plot({width:ml+x1-x0+20,height:mt+H,marginLeft:ml,marginRight:20,marginTop:mt,marginBottom:0,style:baseStyle(21),
  x:{domain:[0,1],label:null},y:{domain:samples,range:[mt+20,mt+412.9],padding:.164,label:null},color:{domain:clusters,range:clusterColors},
  marks:[Plot.barX(rows,{x:"v",y:"s",fill:"c",stroke:"#111",strokeWidth:1.6}),
   Plot.frame({anchor:"top",stroke:"#444",strokeWidth:2.6}),
   Plot.axisX([0,.2,.4,.6,.8,1],{anchor:"top",tickSize:12,tickPadding:22,tickFormat:d3.format(".1f"),label:null,fontSize:20.7,stroke:"#333",strokeWidth:1.4}),
   Plot.axisY(samples,{tickSize:0,tickPadding:32,label:null,fontSize:21})]}),x0-ml,axisY-mt);
 place(Plot.plot({width:17+160,height:181.5,marginLeft:0,marginRight:160,marginTop:0,marginBottom:0,style:baseStyle(21),
  x:{domain:["k"],axis:null,padding:0},y:{domain:clusters,padding:0,axis:null},color:{domain:clusters,range:clusterColors},
  marks:[Plot.cell(clusters,{x:()=>"k",y:d=>d,fill:d=>d,stroke:"#333",strokeWidth:1.2,insetTop:4.4,insetBottom:4.4}),
   Plot.axisY(clusters,{anchor:"right",tickSize:0,tickPadding:15,label:null,fontSize:20.8})]}),2252,1301);
}

// ---------- PANEL D ----------
const dFacets=[
 {t:"CD4-C4-MKI67",c:0,r:0,tx:234,cells:cellsC4,col:clusterColors[0]},{t:"CD4-C3-FOXP3",c:1,r:0,tx:515,cells:cellsC3,col:clusterColors[1]},{t:"CD4-C2-IL7R",c:2,r:0,tx:789,cells:cellsIL7R,col:clusterColors[2]},
 {t:"CD4-C1-CCR7",c:0,r:1,tx:227,cells:cellsCCR7,col:clusterColors[3]},{t:"CD8-C2-MKI67",c:1,r:1,tx:505,cells:cellsC8C2,col:clusterColors[4]},{t:"CD8-C1-LAG3",c:2,r:1,tx:787,cells:cellsLAG3,col:clusterColors[5]},
 {t:"NKT-C1-XCL2",c:0,r:2,tx:233,cells:cellsNKT,col:clusterColors[6]},{c:1,r:2,cells:[]},{c:2,r:2,cells:[]}];
const dX=[88,370,651],dY=[1815,2099,2383];
dFacets.forEach(f=>{
 const ml=40,mb=30,x0=dX[f.c],y0=dY[f.r],cell=pairs(f.cells).map(([x,y])=>({x,y}));
 const tree=f.t?treeBranches.flatMap((b,z)=>b.map(([x,y])=>({x,y,z}))):[];
 place(Plot.plot({width:ml+273+6,height:6+252+mb,marginLeft:ml,marginRight:6,marginTop:6,marginBottom:mb,style:baseStyle(12.5),
  x:{domain:[-5.55,6.05],label:null,axis:f.r===2?undefined:null},y:{domain:[-5.65,3.97],label:null,axis:f.c===0?undefined:null},
  marks:[Plot.dot(cell,{x:"x",y:"y",r:2.2,fill:f.col||"#000"}),
   Plot.line(tree,{x:"x",y:"y",z:"z",stroke:"#000",strokeWidth:2.1,curve:"catmull-rom"}),
   ...(f.c===0?[Plot.frame({anchor:"left",stroke:"#777",strokeWidth:1.6}),Plot.axisY([-4,-2,0,2],{tickSize:4,tickPadding:3,label:null,fontSize:12.5,color:"#444",stroke:"#555"})]:[]),
   ...(f.r===2?[Plot.frame({anchor:"bottom",stroke:"#777",strokeWidth:1.6}),Plot.axisX([-3,0,3,6],{tickSize:4,tickPadding:3,label:null,fontSize:12.5,color:"#444",stroke:"#555"})]:[])]}),x0-ml,y0-6);
 if(f.t)label(f.t,f.tx,y0-11,{size:12.3,anchor:"middle",color:"#222"});
});
label("Component 2",55,2225,{size:15,anchor:"middle",rotate:-90,color:"#111"});
label("Component 1",506,2663,{size:15,anchor:"middle",color:"#111"});

// ---------- PANEL E ----------
{
 const GAP=.27,jet={type:"linear",domain:jetStops,range:jetColors,interpolate:"rgb"};
 const rows=[],geneTicks=[],strips=[];let pos=0;
 eGroups.forEach((g,gi)=>{const start=pos;g.forEach(gene=>{geneTicks.push({p:pos+.5,gene});
   eHeat[gene].forEach((v,k)=>rows.push({x1:pseudoBreaks[k],x2:pseudoBreaks[k+1],y1:pos,y2:pos+1,v}));pos+=1;});
   strips.push({c:eGroupCluster[gi],y1:start,y2:pos});pos+=GAP;});
 const total=pos-GAP,x0=1038.5,x1=1717,y0=1765,y1=2617,mr=80;
 const pmap=new Map(geneTicks.map(d=>[d.p,d.gene]));
 place(Plot.plot({width:x1-x0+mr,height:y1-y0,marginLeft:0,marginRight:mr,marginTop:0,marginBottom:0,style:baseStyle(11),
  x:{domain:[0,100],axis:null},y:{domain:[total,0],label:null},color:jet,
  marks:[Plot.rect(rows,{x1:"x1",x2:"x2",y1:"y1",y2:"y2",fill:"v"}),
   Plot.axisY(geneTicks.map(d=>d.p),{anchor:"right",tickSize:0,tickPadding:5,tickFormat:p=>pmap.get(p),label:null,fontSize:11})]}),x0,y0);
 place(Plot.plot({width:1033.5-976,height:y1-y0,margin:0,style:baseStyle(11),
  x:{domain:[0,57.5],axis:null},y:{domain:[total,0],axis:null},color:{domain:eClusterKeys,range:eClusterColors},
  marks:[Plot.rect(strips,{x1:46,x2:57.5,y1:"y1",y2:"y2",fill:"c"}),
   Plot.link(eTree.filter(d=>d[4]===0),{x1:d=>d[0],y1:d=>d[1],x2:d=>d[2],y2:d=>d[3],stroke:"#999",strokeWidth:1.4}),
   Plot.link(eTree.filter(d=>d[4]===1),{x1:d=>d[0],y1:d=>d[1],x2:d=>d[2],y2:d=>d[3],stroke:"#222",strokeWidth:1.6})]}),976,y0);
 label("Cluster",1027.5,2641,{size:11,bold:true,anchor:"middle",rotate:90});
 colorBar({x0:1787.6,x1:1806,y0:1765+3.8,y1:2038-3.8,domain:[-3,3],color:jet,ticks:[-3,-2,-1,0,1,2,3],fmt:d3.format(""),size:11,whiteTicks:false,mr:30,pad:6});
 label("Cluster",1826,1769,{size:11,bold:true});
 place(Plot.plot({width:15.5+22,height:109.5,marginLeft:0,marginRight:22,marginTop:0,marginBottom:0,style:baseStyle(11),
  x:{domain:["k"],axis:null,padding:0},y:{domain:eClusterKeys,padding:0,axis:null},color:{domain:eClusterKeys,range:eClusterColors},
  marks:[Plot.cell(eClusterKeys,{x:()=>"k",y:d=>d,fill:d=>d}),
   Plot.axisY(eClusterKeys,{anchor:"right",tickSize:0,tickPadding:4,label:null,fontSize:11})]}),1826,1777);
}

// ---------- PANEL F ----------
{
 const rows=[];fGenes.forEach((g,i)=>[fImmunoCA,fChemoCA,fChemoNC,fImmunoNC].forEach((s,j)=>rows.push({g,c:fCols[j],v:s[i]})));
 const x0=1965.5,x1=2321.5,y0=1760,y1=2606,mr=100,mb=90;
 const fc={type:"linear",domain:[-1.5,0,1.5],range:["#000080","#FFFFFF","#B22222"],interpolate:"rgb"};
 place(Plot.plot({width:x1-x0+mr,height:y1-y0+mb,marginLeft:0,marginRight:mr,marginTop:0,marginBottom:mb,style:baseStyle(11.5),
  x:{domain:fCols,padding:0,label:null},y:{domain:fGenes,padding:0,label:null},color:fc,
  marks:[Plot.cell(rows,{x:"c",y:"g",fill:"v",stroke:"#a3a3a3",strokeWidth:1.6}),
   Plot.axisX(fCols,{tickSize:0,tickPadding:5,tickRotate:90,label:null,fontSize:12.5}),
   Plot.axisY(fGenes,{anchor:"right",tickSize:0,tickPadding:5,label:null,fontSize:11.5})]}),x0,y0);
 place(Plot.plot({width:25,height:y1-y0,margin:0,style:baseStyle(11),
  x:{domain:[160,224],axis:null},y:{domain:[20,0],axis:null},
  marks:[Plot.link(fTree,{x1:d=>d[0],y1:d=>d[1],x2:d=>d[2],y2:d=>d[3],stroke:"#222",strokeWidth:1.3})]}),1940.5,y0);
 colorBar({x0:2407,x1:2424,y0:1761,y1:2007,domain:[-1.5,1.5],color:fc,ticks:[-1.5,-1,-.5,0,.5,1,1.5],fmt:d3.format(""),size:15,whiteTicks:false,mr:50,pad:7});
}

// ---------- PANEL LETTERS ----------
[["A",12,40],["B",17,1086],["C",1276,1090],["D",18,1715],["E",934,1715],["F",1883,1715]].forEach(([t,x,y])=>label(t,x,y,{size:96,bold:true}));
</script></body></html>
